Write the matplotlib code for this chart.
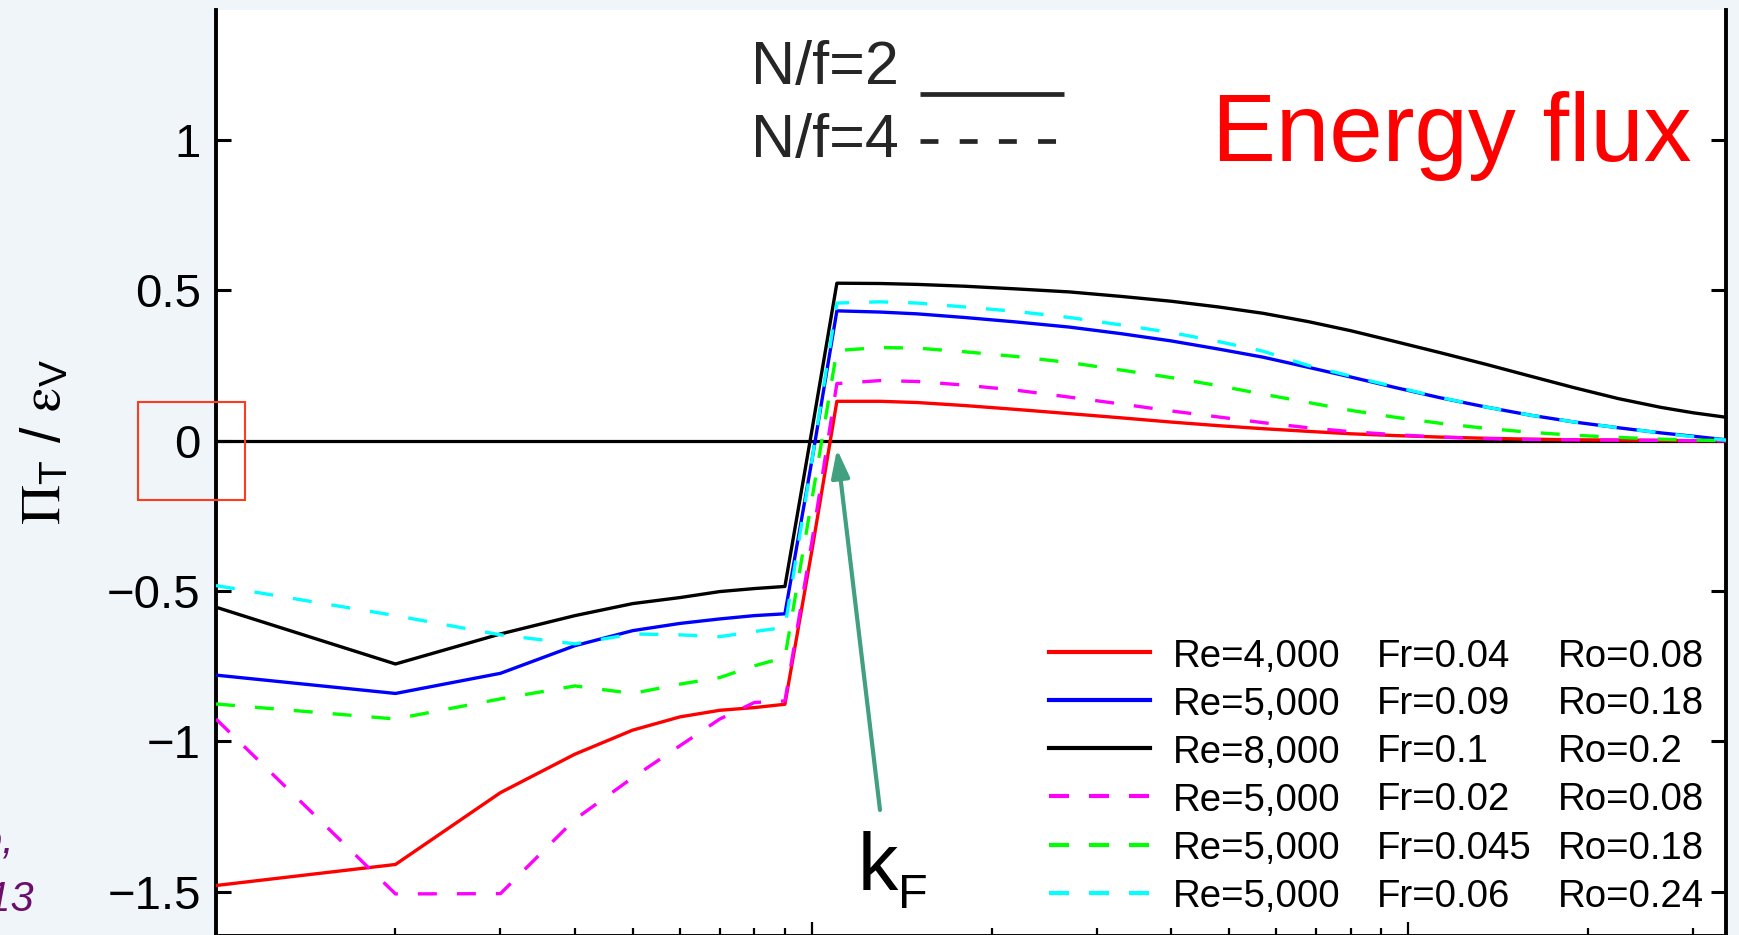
import matplotlib
matplotlib.use("Agg")
import matplotlib.pyplot as plt
from matplotlib.lines import Line2D
from matplotlib.patches import Rectangle, FancyArrowPatch

# ---------------- data ----------------
k = [1, 2, 3, 4, 5, 6, 7, 8, 9, 10,
     11, 13, 15, 18, 22, 27, 33, 40, 48, 57, 68, 80, 95, 113, 135, 160, 190,
     225, 265, 300, 341]

red = [-1.48, -1.41, -1.171, -1.043, -0.963, -0.919, -0.897, -0.888, -0.877, -0.36,
       0.131, 0.131, 0.127, 0.117, 0.104, 0.09, 0.076, 0.062, 0.05, 0.04, 0.031,
       0.023, 0.017, 0.012, 0.008, 0.005, 0.003, 0.002, 0.001, 0.0, 0.0]
blue = [-0.78, -0.841, -0.774, -0.682, -0.632, -0.608, -0.593, -0.582, -0.576, -0.06,
        0.432, 0.428, 0.422, 0.41, 0.395, 0.378, 0.356, 0.332, 0.305, 0.278, 0.244,
        0.212, 0.177, 0.143, 0.112, 0.085, 0.062, 0.043, 0.026, 0.015, 0.003]
black = [-0.554, -0.743, -0.643, -0.582, -0.542, -0.522, -0.502, -0.492, -0.485, 0.04,
         0.524, 0.523, 0.52, 0.514, 0.505, 0.495, 0.48, 0.464, 0.445, 0.424, 0.396,
         0.366, 0.33, 0.293, 0.254, 0.215, 0.176, 0.14, 0.111, 0.093, 0.078]
magenta = [-0.926, -1.508, -1.507, -1.26, -1.121, -1.015, -0.926, -0.871, -0.866, -0.33,
           0.19, 0.20, 0.197, 0.185, 0.168, 0.145, 0.122, 0.099, 0.079, 0.06, 0.043,
           0.03, 0.02, 0.012, 0.007, 0.004, 0.003, 0.002, 0.001, 0.0, 0.0]
green = [-0.876, -0.926, -0.859, -0.816, -0.841, -0.81, -0.788, -0.749, -0.721, -0.19,
         0.30, 0.31, 0.308, 0.296, 0.28, 0.26, 0.235, 0.21, 0.183, 0.155, 0.127,
         0.101, 0.078, 0.058, 0.041, 0.028, 0.018, 0.011, 0.005, 0.002, 0.0]
cyan = [-0.482, -0.582, -0.646, -0.676, -0.643, -0.646, -0.652, -0.635, -0.621, -0.06,
        0.458, 0.462, 0.458, 0.445, 0.43, 0.41, 0.385, 0.36, 0.33, 0.298, 0.25,
        0.215, 0.179, 0.144, 0.112, 0.085, 0.062, 0.043, 0.026, 0.013, 0.002]

series = [red, blue, black, magenta, green, cyan]
colors = ['#ff0000', '#0000ff', '#000000', '#ff00ff', '#00ff00', '#00ffff']
dashed = [False, False, False, True, True, True]
re_labels = ['Re=4,000', 'Re=5,000', 'Re=8,000', 'Re=5,000', 'Re=5,000', 'Re=5,000']
fr_labels = ['Fr=0.04', 'Fr=0.09', 'Fr=0.1', 'Fr=0.02', 'Fr=0.045', 'Fr=0.06']
ro_labels = ['Ro=0.08', 'Ro=0.18', 'Ro=0.2', 'Ro=0.08', 'Ro=0.18', 'Ro=0.24']
yticks = [-1.5, -1, -0.5, 0, 0.5, 1]
yticklabels = ['\u22121.5', '\u22121', '\u22120.5', '0', '0.5', '1']

# ---------------- style ----------------
plt.rcParams['font.family'] = ['Liberation Sans', 'DejaVu Sans']
plt.rcParams['mathtext.fontset'] = 'stix'

W, H = 1739, 935
BG = '#f0f5fa'
fig = plt.figure(figsize=(W / 100, H / 100), dpi=100, facecolor=BG)


def fx(x):
    return x / W


def fy(y):
    return 1 - y / H


ax_left, ax_right, ax_top, ax_bot = 216, 1726, 10, 936
ax = fig.add_axes([fx(ax_left), fy(ax_bot), fx(ax_right - ax_left), (ax_bot - ax_top) / H])
ax.set_facecolor('white')

ax.axhline(0, color='black', lw=2.3, zorder=2)

for s, c, d in zip(series, colors, dashed):
    if d:
        ax.plot(k, s, color=c, lw=2.4, dashes=(5.7, 6.0), zorder=3)
    else:
        ax.plot(k, s, color=c, lw=2.4, zorder=3)

ax.set_xscale('log')
ax.set_xlim(1, 341)
ax.set_ylim(-1.648, 1.433)
ax.set_yticks(yticks)
ax.set_yticklabels(yticklabels)
ax.tick_params(axis='y', which='both', direction='in', length=11, width=2.2,
               labelsize=34, pad=11, left=True, right=True, labelleft=True)
ax.tick_params(axis='x', which='major', direction='in', length=10, width=1.6,
               bottom=True, top=False, labelbottom=False)
ax.tick_params(axis='x', which='minor', direction='in', length=6, width=1.6,
               bottom=True, top=False, labelbottom=False)
ax.spines['top'].set_visible(False)
for sp in ['left', 'right', 'bottom']:
    ax.spines[sp].set_linewidth(2.8)

# ---------------- legend (manual, three aligned columns) ----------------
handle_y = [652.3, 700.0, 748.0, 796.0, 844.7, 892.7]
for i in range(6):
    hy = handle_y[i]
    if dashed[i]:
        ln = Line2D([fx(1049), fx(1150)], [fy(hy), fy(hy)], transform=fig.transFigure,
                    color=colors[i], lw=3.0, dashes=(4.8, 4.8))
    else:
        ln = Line2D([fx(1049), fx(1150)], [fy(hy), fy(hy)], transform=fig.transFigure,
                    color=colors[i], lw=3.0)
    fig.add_artist(ln)
    base = hy + 14.5
    fig.text(fx(1173), fy(base), re_labels[i], fontsize=27.6, va='baseline', ha='left')
    fig.text(fx(1377), fy(base), fr_labels[i], fontsize=27.6, va='baseline', ha='left')
    fig.text(fx(1558), fy(base), ro_labels[i], fontsize=27.6, va='baseline', ha='left')

# ---------------- annotations ----------------
fig.text(fx(1212), fy(161), 'Energy flux', color='#ff0000', fontsize=69,
         va='baseline', ha='left')

dark = '#262626'
fig.text(fx(751), fy(84), 'N/f=2', color=dark, fontsize=44, va='baseline', ha='left')
fig.text(fx(751), fy(157), 'N/f=4', color=dark, fontsize=44, va='baseline', ha='left')
fig.add_artist(Line2D([fx(920), fx(1064)], [fy(93.5), fy(93.5)], transform=fig.transFigure,
                      color=dark, lw=3.4, solid_capstyle='butt'))
fig.add_artist(Line2D([fx(920), fx(1058)], [fy(141), fy(141)], transform=fig.transFigure,
                      color=dark, lw=3.4, dashes=(3.8, 4.5), dash_capstyle='butt'))

fig.text(fx(858), fy(890), 'k', fontsize=58, va='baseline', ha='left')
fig.text(fx(898), fy(908), 'F', fontsize=35, va='baseline', ha='left')

arrow = FancyArrowPatch((fx(880), fy(810)), (fx(837), fy(449)), transform=fig.transFigure,
                        arrowstyle='-|>,head_length=17,head_width=5.5', mutation_scale=1,
                        color='#40a080', lw=3.0, shrinkA=0, shrinkB=0)
fig.add_artist(arrow)

fig.text(fx(46), fy(442),
         r'$\mathrm{\Pi}_{\mathregular{T}}$ / $\mathrm{\varepsilon}_{\mathregular{V}}$',
         rotation=90, fontsize=40, ha='center', va='center')

rect = Rectangle((fx(138), fy(500)), fx(245 - 138), (500 - 402) / H,
                 transform=fig.transFigure, fill=False, edgecolor='#ff3b1f', lw=1.5,
                 zorder=10)
fig.add_artist(rect)

purple = '#6a0f6a'
fig.text(fx(14), fy(853), 'Pouquet & Marino,', color=purple, fontsize=30,
         style='italic', ha='right', va='baseline')
fig.text(fx(34), fy(910), 'PRL 111, 2013', color=purple, fontsize=30,
         style='italic', ha='right', va='baseline')

fig.savefig('out.png', dpi=100, facecolor=fig.get_facecolor())
